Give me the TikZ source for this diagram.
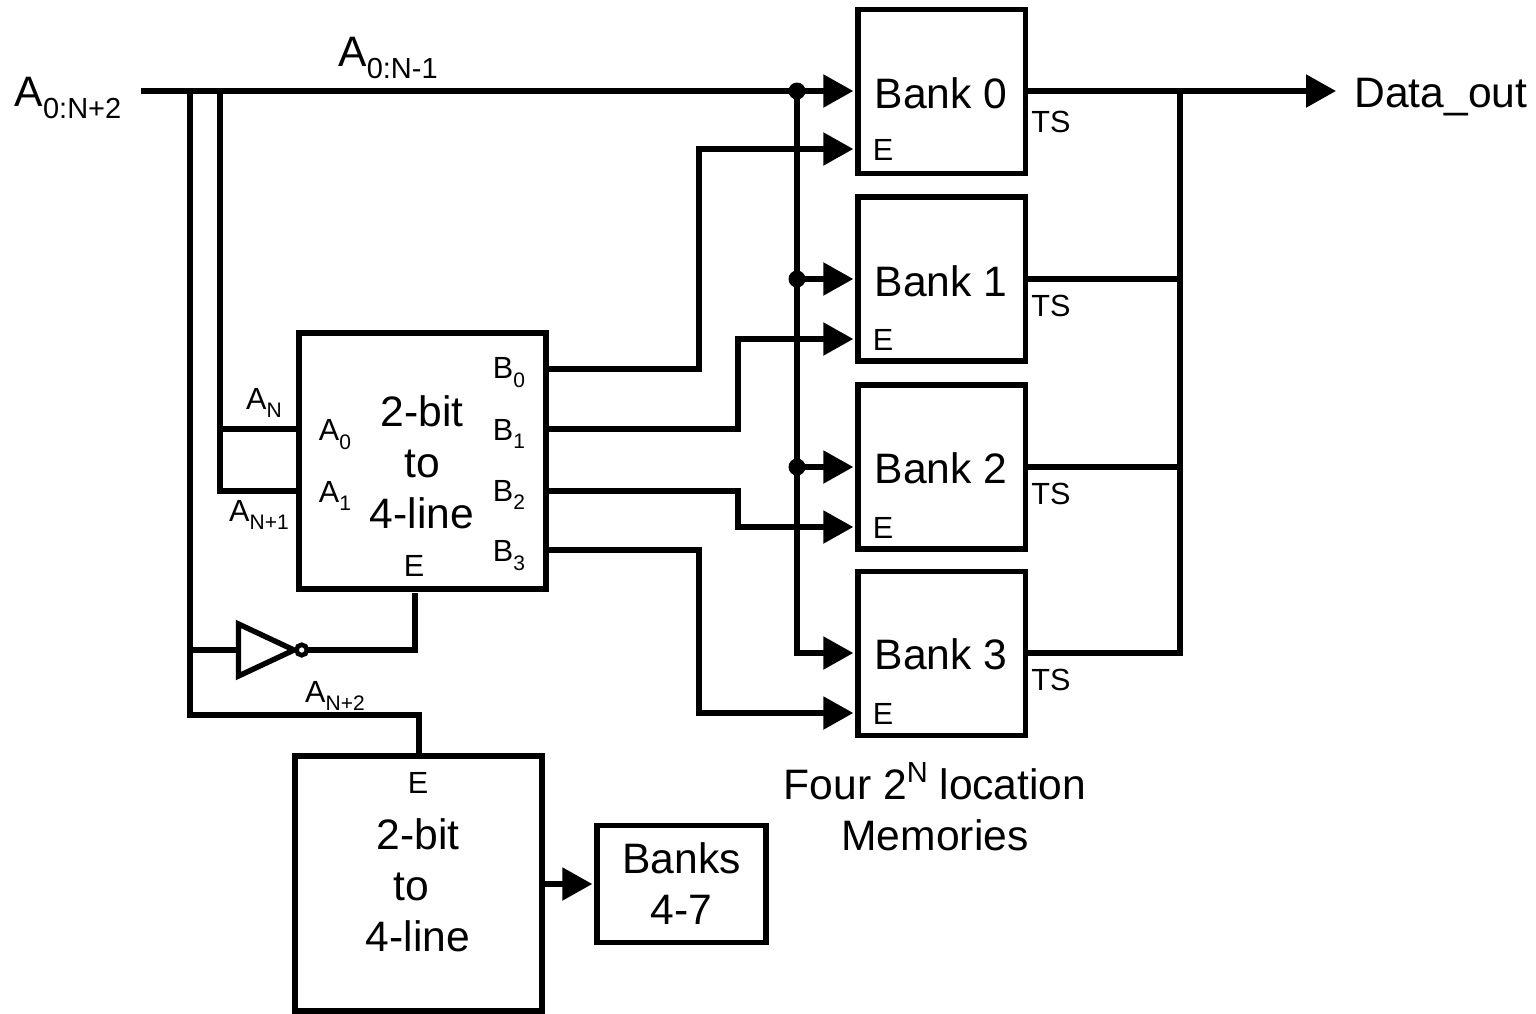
\documentclass[tikz,border=0pt]{standalone}
\usepackage{fontspec}
\setmainfont{Liberation Sans}
\usetikzlibrary{arrows.meta}
\newcommand{\lowsub}[1]{\raisebox{-0.55ex}{\fontsize{10.5}{12}\selectfont #1}}
\newcommand{\bigsub}[1]{\raisebox{-0.55ex}{\fontsize{14.5}{18}\selectfont #1}}
\tikzset{
	wire/.style={line width=2.7pt},
	arrwire/.style={line width=2.7pt,shorten >=1pt,-{Triangle[length=15pt,width=16pt]}},
	box/.style={draw,line width=2.7pt,inner sep=0pt,align=center},
	big/.style={font=\fontsize{21.3}{25.5}\selectfont,inner sep=0pt},
	small/.style={font=\fontsize{15.3}{18}\selectfont,inner sep=0pt},
	dot/.style={circle,fill,inner sep=0pt,minimum size=8.5pt}
}
\begin{document}
\begin{tikzpicture}[x=0.5pt,y=-0.5pt]
	\useasboundingbox (0,0) rectangle (1536,1013);
	% memory banks
	\node[box,minimum width=83.75pt,minimum height=82pt] (bank0) at (941.75,91.5) {};
	\node[box,minimum width=83.75pt,minimum height=82pt] (bank1) at (941.75,279) {};
	\node[box,minimum width=83.75pt,minimum height=82pt] (bank2) at (941.75,467) {};
	\node[box,minimum width=83.75pt,minimum height=82pt] (bank3) at (941.75,653.5) {};
	\node[big] at (941,93) {Bank 0};
	\node[big] at (941,281) {Bank 1};
	\node[big] at (941,468) {Bank 2};
	\node[big] at (941,654) {Bank 3};
	\node[small] at (883,150) {E};
	\node[small] at (883,340) {E};
	\node[small] at (883,528) {E};
	\node[small] at (883,714) {E};
	\node[small] at (1051,122) {TS};
	\node[small] at (1051,306) {TS};
	\node[small] at (1051,494) {TS};
	\node[small] at (1051,680) {TS};
	% decoders
	\node[box,minimum width=123.5pt,minimum height=128pt] (dec) at (422.5,461) {};
	\node[big,align=center] at (422,462) {2-bit\\to\\4-line};
	\node[box,minimum width=123.5pt,minimum height=127.5pt] (decb) at (418.5,883.5) {};
	\node[big,align=center] at (418,885.5) {2-bit\\\mbox{to\hspace{7pt}}\\4-line};
	\node[box,minimum width=84.5pt,minimum height=58.5pt,font=\fontsize{21.3}{25.5}\selectfont] (banks) at (681.5,884) {Banks\\4-7};
	% decoder pins
	\node[small] at (335,435) {A\lowsub{0}};
	\node[small] at (335,496) {A\lowsub{1}};
	\node[small] at (509,373) {B\lowsub{0}};
	\node[small] at (509,434) {B\lowsub{1}};
	\node[small] at (509,495) {B\lowsub{2}};
	\node[small] at (509,556) {B\lowsub{3}};
	\node[small] (en) at (414,566) {E};
	\node[small] (enb) at (418,783) {E};
	% inverter
	\coordinate (invc) at (301.7,650);
	\draw[wire,fill=white] (238.5,624) -- (294,650) -- (238.5,676) -- cycle;
	\draw[line width=2.3pt,fill=white] (invc) circle (5.25);
	% labels
	\node[big] at (68,98) {A\bigsub{0:N+2}};
	\node[big] at (388,58) {A\bigsub{0:N-1}};
	\node[small] at (264,403) {A\lowsub{N}};
	\node[small] at (259,515) {A\lowsub{N+1}};
	\node[small] at (335,696) {A\lowsub{N+2}};
	\node[big,align=center] at (935,807) {Four 2\raisebox{0.75ex}{\fontsize{14.5}{18}\selectfont N} location\\Memories};
	\node[big,anchor=west] (out) at (1354,97) {Data\_out};
	% address wires
	\coordinate (ain) at (141,91);
	\draw[arrwire] (ain) -- (bank0.west |- ain);
	\draw[wire] (190,91) -- (190,715) -- (419,715) -- (419,756);
	\draw[wire] (220,91) -- (220,491) -- (299,491);
	\draw[wire] (220,429) -- (299,429);
	\draw[wire] (190,650) -- (238,650);
	\draw[wire] (invc) ++(5.5,0) -- (415,650) -- (415,593);
	\draw[arrwire] (797,91) -- (797,653) -- (bank3.west |- 0,653);
	\draw[arrwire] (797,279) -- (bank1.west |- 0,279);
	\draw[arrwire] (797,467) -- (bank2.west |- 0,467);
	\node[dot] (d0) at (797,91) {};
	\node[dot] (d1) at (797,279) {};
	\node[dot] (d2) at (797,467) {};
	% enables
	\draw[arrwire] (546,369) -- (699,369) -- (699,149) -- (bank0.west |- 0,149);
	\draw[arrwire] (546,429) -- (738,429) -- (738,339) -- (bank1.west |- 0,339);
	\draw[arrwire] (546,491) -- (738,491) -- (738,527) -- (bank2.west |- 0,527);
	\draw[arrwire] (546,550) -- (699,550) -- (699,713) -- (bank3.west |- 0,713);
	\draw[arrwire] (decb.east |- 0,884) -- (banks.west |- 0,884);
	% outputs
	\draw[arrwire] (bank0.east |- 0,91) -- (1338,91);
	\draw[wire] (bank1.east |- 0,279) -- (1180,279);
	\draw[wire] (bank2.east |- 0,467) -- (1180,467);
	\draw[wire] (bank3.east |- 0,653) -- (1180,653) -- (1180,91);
\end{tikzpicture}
\end{document}
